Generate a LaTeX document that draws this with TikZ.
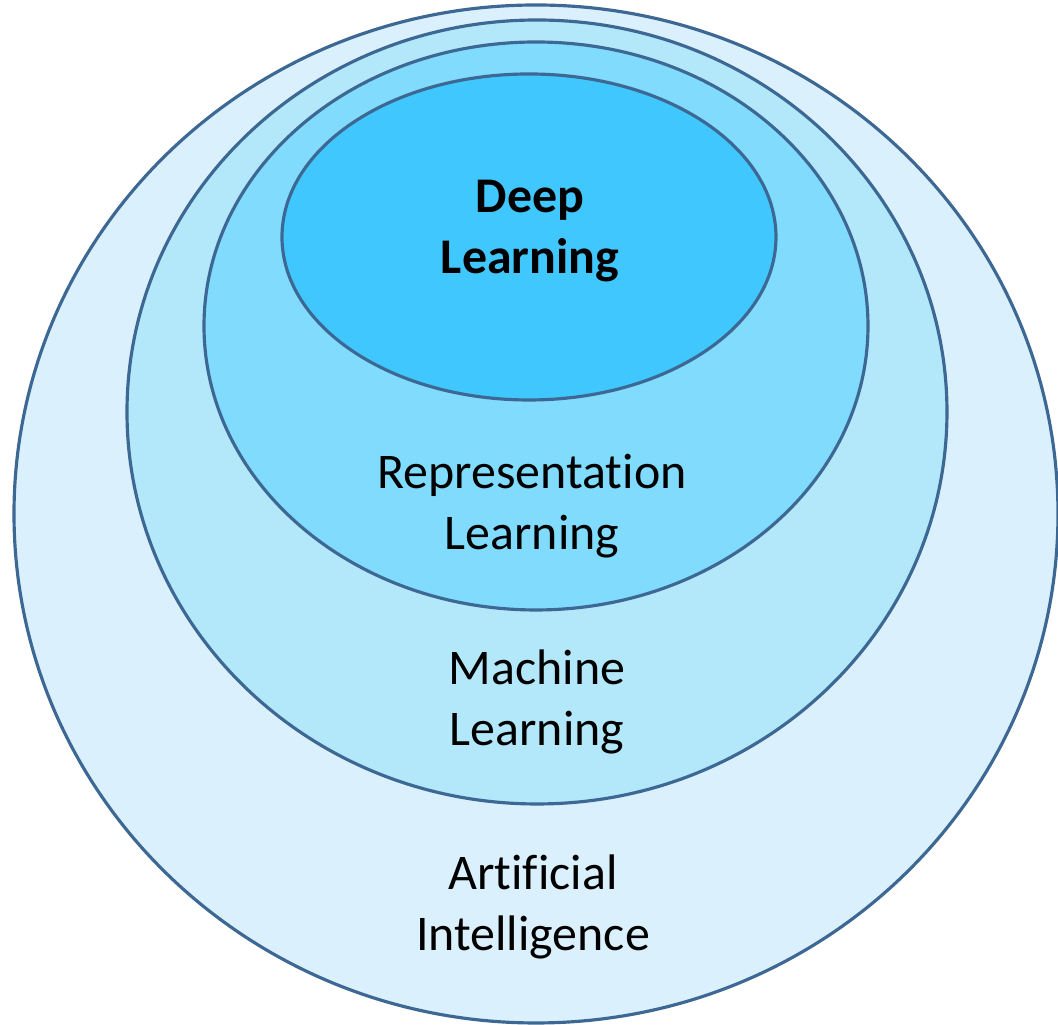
\documentclass[tikz,border=0pt]{standalone}
\usepackage{fontspec}
\setmainfont{Carlito}[Ligatures=NoCommon]
\usepackage{tikz}
\usetikzlibrary{shapes.geometric}
\definecolor{ringline}{RGB}{61,104,148}
\definecolor{aifill}{RGB}{218,240,252}
\definecolor{mlfill}{RGB}{179,232,251}
\definecolor{rlfill}{RGB}{128,219,253}
\definecolor{dlfill}{RGB}{64,200,254}
\def\ring{\node[ellipse,draw=ringline,line width=0.9pt,inner sep=0pt]}
\def\ringlabel{\node[align=center,font=\fontsize{14.2pt}{17.4pt}\selectfont]}

\begin{document}
\begin{tikzpicture}
\useasboundingbox (0,0) rectangle (10.58,10.25);
\ring[fill=aifill,minimum width=10.44cm,minimum height=10.18cm] (ai) at (5.36,5.11) {};
\ring[fill=mlfill,minimum width=8.20cm,minimum height=7.84cm] (ml) at (5.37,6.13) {};
\ring[fill=rlfill,minimum width=6.64cm,minimum height=5.68cm] (rl) at (5.36,6.99) {};
\ring[fill=dlfill,minimum width=4.94cm,minimum height=3.26cm] (dl) at (5.29,7.88) {};
\ringlabel (dltext) at (5.30,7.94) {\bfseries Deep\\\bfseries Learning};
\ringlabel (rltext) at (5.32,5.19) {Representation\\Learning};
\ringlabel (mltext) at (5.37,3.23) {Machine\\Learning};
\ringlabel (aitext) at (5.33,1.18) {Artificial\\Intelligence};
\end{tikzpicture}
\end{document}
